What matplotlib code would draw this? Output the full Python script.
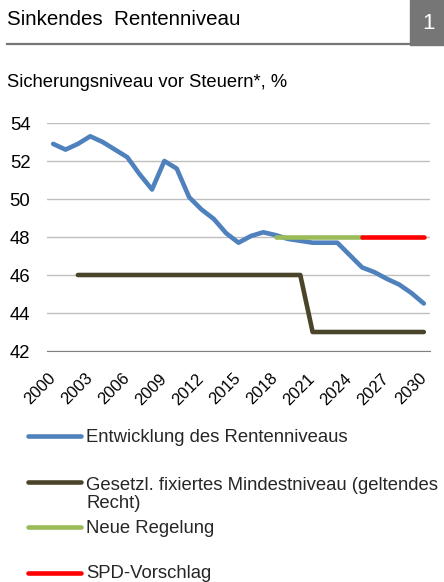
import matplotlib.pyplot as plt
from matplotlib.lines import Line2D
from matplotlib.patches import Rectangle
import numpy as np

plt.rcParams['font.family'] = ['Liberation Sans', 'DejaVu Sans']

# Daten
jahre = list(range(2000, 2031))
rentenniveau = [52.9, 52.6, 52.9, 53.3, 53.0, 52.6, 52.2, 51.3, 50.5, 52.0,
                51.6, 50.1, 49.45, 48.95, 48.2, 47.7, 48.05, 48.25, 48.1, 47.9,
                47.8, 47.7, 47.7, 47.7, 47.05, 46.4, 46.15, 45.8, 45.5, 45.05,
                44.5]
mindest_jahre = list(range(2002, 2031))
mindestniveau = [46] * 19 + [43] * 10
neu_jahre = list(range(2018, 2026))
neue_regelung = [48] * 8
spd_jahre = list(range(2025, 2031))
spd_vorschlag = [48] * 6

labels = ['Entwicklung des Rentenniveaus',
          'Gesetzl. fixiertes Mindestniveau (geltendes\nRecht)',
          'Neue Regelung',
          'SPD-Vorschlag']
farben = ['#4F81BD', '#4A452A', '#9BBB59', '#FF0000']

W, H = 444, 582
fig = plt.figure(figsize=(W / 100, H / 100), dpi=100)

# Kopfzeile
fig.text(7 / W, 1 - 25 / H, 'Sinkendes  Rentenniveau', fontsize=14.8,
         va='baseline', ha='left', color='#000000')
fig.add_artist(Line2D([7 / W, 410 / W], [1 - 44 / H, 1 - 44 / H],
                      color='#767676', lw=1.6))
fig.add_artist(Rectangle((410 / W, 1 - 45 / H), 34 / W, 45 / H,
                         color='#767676', transform=fig.transFigure))
fig.text(428 / W, 1 - 29 / H, '1', fontsize=16, va='baseline', ha='center',
         color='white')
fig.text(7 / W, 1 - 87 / H, 'Sicherungsniveau vor Steuern*, %', fontsize=13.2,
         va='baseline', ha='left')

ax = fig.add_axes([47 / W, 1 - 351 / H, 383 / W, 228 / H])
x = np.arange(len(jahre))
idx = {j: i for i, j in enumerate(jahre)}

kw = dict(lw=3.3, solid_capstyle='round', solid_joinstyle='round')
ax.plot(x, rentenniveau, color=farben[0], **kw)
ax.plot([idx[j] for j in mindest_jahre], mindestniveau, color=farben[1], **kw)
ax.plot([idx[j] for j in neu_jahre], neue_regelung, color=farben[2], **kw)
ax.plot([idx[j] for j in spd_jahre], spd_vorschlag, color=farben[3], **kw)

ax.set_xlim(-0.5, len(jahre) - 0.5)
ax.set_ylim(42, 54)
ax.set_yticks(range(42, 55, 2))
ax.yaxis.grid(True, color='#BFBFBF', lw=1)
ax.set_axisbelow(True)
for s in ['top', 'right', 'left']:
    ax.spines[s].set_visible(False)
ax.spines['bottom'].set_color('#808080')
ax.tick_params(axis='y', length=0, pad=12, labelsize=13.3)
ticks = x[::3]
ax.set_xticks(ticks)
ax.set_xticklabels([str(jahre[i]) for i in ticks], rotation=45, ha='right',
                   va='center', rotation_mode='anchor', fontsize=12)
ax.tick_params(axis='x', length=0, pad=18)

# Legende (bei mehrzeiligem Text gilt die Grundlinie der letzten Zeile)
linien_y = [436, 482, 527, 573]
text_y = [442, 508, 533, 578]
for ly, ty, lab, f in zip(linien_y, text_y, labels, farben):
    fig.add_artist(Line2D([28 / W, 81 / W], [1 - ly / H, 1 - ly / H],
                          color=f, lw=3.3, solid_capstyle='round'))
    fig.text(86 / W, 1 - ty / H, lab, fontsize=13.3, va='baseline', ha='left',
             color='#262626', linespacing=1.05)

fig.savefig('out.png', dpi=100)
